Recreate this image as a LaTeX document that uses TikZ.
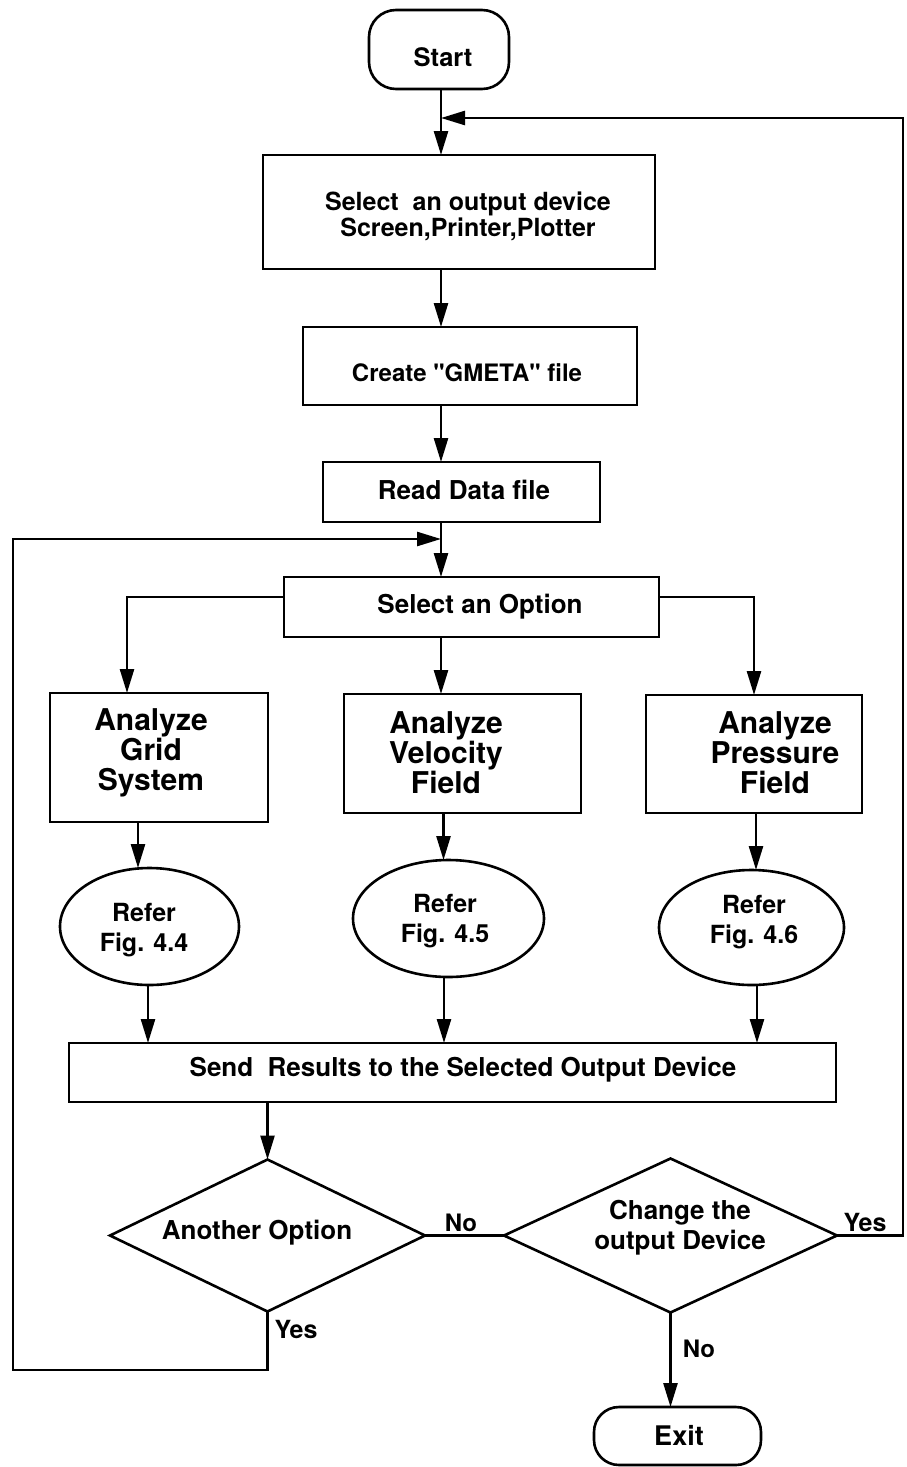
\documentclass[tikz,border=0pt]{standalone}
\usepackage{fontspec}
\setmainfont{TeX Gyre Heros}[Ligatures=TeXOff]
\usetikzlibrary{shapes.geometric,arrows.meta}
\newcommand{\fs}[1]{\fontsize{#1}{#1}\selectfont\bfseries}
\begin{document}
\begin{tikzpicture}[x=1pt,y=-1pt,
  boxnode/.style={draw, line width=2.6pt, rectangle, inner sep=0pt, outer sep=0pt},
  ovalnode/.style={draw, line width=2.6pt, ellipse, inner sep=0pt, outer sep=0pt},
  decision/.style={draw, line width=2.6pt, diamond, aspect=2, inner sep=0pt, outer sep=0pt},
  terminal/.style={draw, line width=2.6pt, rectangle, rounded corners=27pt, inner sep=0pt, outer sep=0pt},
  flow/.style={line width=2.6pt, -{Triangle[length=24pt,width=14pt]}},
  wire/.style={line width=2.6pt},
  txt/.style={inner sep=0pt, outer sep=0pt, align=center},
]
\useasboundingbox (0,0) rectangle (907,1467);

% ---- shapes ----
\node[terminal, minimum width=140pt, minimum height=79pt] (start) at (439,49.5) {};
\node[boxnode, minimum width=392pt, minimum height=114pt] (sel) at (459,212) {};
\node[boxnode, minimum width=334pt, minimum height=78pt] (create) at (470,366) {};
\node[boxnode, minimum width=277pt, minimum height=60pt] (read) at (461.5,492) {};
\node[boxnode, minimum width=375pt, minimum height=60pt] (opt) at (471.5,607) {};
\node[boxnode, minimum width=218pt, minimum height=129pt] (grid) at (159,757.5) {};
\node[boxnode, minimum width=237pt, minimum height=119pt] (vel) at (462.5,753.5) {};
\node[boxnode, minimum width=216pt, minimum height=118pt] (pres) at (754,754) {};
\node[ovalnode, minimum width=179pt, minimum height=117pt] (e1) at (149.5,926.5) {};
\node[ovalnode, minimum width=191pt, minimum height=117pt] (e2) at (448.5,918.5) {};
\node[ovalnode, minimum width=185pt, minimum height=115pt] (e3) at (751.5,927.5) {};
\node[boxnode, minimum width=767pt, minimum height=59pt] (send) at (452.5,1072.5) {};
\node[decision, minimum width=315pt, minimum height=152pt] (d1) at (267.5,1235.5) {};
\node[decision, minimum width=333pt, minimum height=154pt] (d2) at (670.5,1235.5) {};
\node[terminal, minimum width=167pt, minimum height=58pt, rounded corners=25pt] (exit) at (677.5,1436) {};

% ---- texts ----
\node[txt, font=\fs{25.5}] (startt) at (443,57) {Start};
\node[txt, font=\fs{25}, text depth=0pt] (selt) at (468,214) {Select\ \ an output device\\[1pt]Screen,Printer,Plotter};
\node[txt, font=\fs{24}] (createt) at (467,373) {Create "GMETA" file};
\node[txt, font=\fs{26}] (readt) at (464,490) {Read Data file};
\node[txt, font=\fs{26}] (optt) at (480,607) {Select an Option};
\node[txt, font=\fs{30}] (gridt) at (151,753) {Analyze\\Grid\\System};
\node[txt, font=\fs{30}] (velt) at (446,753) {Analyze\\Velocity\\Field};
\node[txt, font=\fs{30}] (prest) at (775,753) {Analyze\\Pressure\\Field};
\node[txt, font=\fs{25}] (e1t) at (144,930) {Refer\\[5pt]Fig. 4.4};
\node[txt, font=\fs{25}] (e2t) at (445,921) {Refer\\[5pt]Fig. 4.5};
\node[txt, font=\fs{25}] (e3t) at (754,922) {Refer\\[5pt]Fig. 4.6};
\node[txt, font=\fs{26}] (sendt) at (463,1070) {Send\ \ Results to the Selected Output Device};
\node[txt, font=\fs{26}] (d1t) at (257,1233) {Another Option};
\node[txt, font=\fs{26}] (d2t) at (680,1228) {Change the\\[4pt]output Device};
\node[txt, font=\fs{27}] (exitt) at (679,1435) {Exit};

% ---- junctions and free ends ----
\coordinate (spine) at (441,0);
\coordinate (join1) at (441,118);
\coordinate (rtop) at (903,118);
\coordinate (join2) at (441,539);
\coordinate (lbot) at (13,1370);
\coordinate (ltop) at (13,539);

% ---- connectors ----
\draw[flow] (start.south -| spine) -- (sel.north -| spine);
\draw[flow] (d2.east) -| (rtop) -- (join1);
\draw[flow] (sel.south -| spine) -- (create.north -| spine);
\draw[flow] (create.south -| spine) -- (read.north -| spine);
\draw[flow] (read.south -| spine) -- (opt.north -| spine);
\draw[flow] (d1.south) |- (lbot) -- (ltop) -- (join2);

\draw[flow] ([yshift=10pt]opt.west) -| ([xshift=-32pt]grid.north);
\draw[flow] (opt.south -| spine) -- (vel.north -| spine);
\draw[flow] ([yshift=10pt]opt.east) -| (pres.north);

\draw[flow] ([xshift=-21pt]grid.south) -- ([xshift=-21pt]grid.south |- e1.north);
\draw[flow] ([xshift=-19pt]vel.south) -- ([xshift=-19pt]vel.south |- e2.north);
\draw[flow] ([xshift=2pt]pres.south) -- ([xshift=2pt]pres.south |- e3.north);

\draw[flow] ([xshift=-1.5pt]e1.south) -- ([xshift=-1.5pt]e1.south |- send.north);
\draw[flow] ([xshift=-4.5pt]e2.south) -- ([xshift=-4.5pt]e2.south |- send.north);
\draw[flow] ([xshift=5.5pt]e3.south) -- ([xshift=5.5pt]e3.south |- send.north);

\draw[flow] (send.south -| d1.north) -- (d1.north);
\draw[wire] (d1.east) -- (d2.west);
\draw[flow] (d2.south) -- (d2.south |- exit.north);

% ---- branch labels ----
\node[txt, font=\fs{24}] (lno1) at (461,1223) {No};
\node[txt, font=\fs{25}] (lyes1) at (865,1222) {Yes};
\node[txt, font=\fs{25}] (lyes2) at (296,1329) {Yes};
\node[txt, font=\fs{24}] (lno2) at (699,1349) {No};
\end{tikzpicture}
\end{document}
